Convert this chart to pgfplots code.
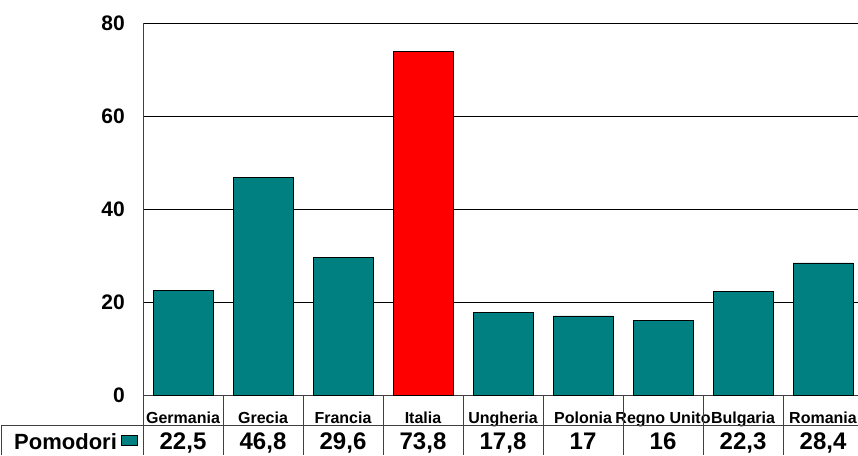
\documentclass[border=0pt]{standalone}
\usepackage{pgfplots}
\pgfplotsset{compat=1.18}
\usepackage{fontspec}
\setmainfont{Liberation Sans}
\definecolor{tealx}{HTML}{008080}
\definecolor{linex}{HTML}{404040}
\pgfplotstableread{
x y
0 22.5
1 46.8
2 29.6
4 17.8
5 17
6 16
7 22.3
8 28.4
}\teal
\pgfplotstableread{
x y
3 73.8
}\red
\pgfplotstableread{
x y v
0 0 22,5
1 0 46,8
2 0 29,6
3 0 73,8
4 0 17,8
5 0 17
6 0 16
7 0 22,3
8 0 28,4
}\vals
\begin{document}
\begin{tikzpicture}[x=1pt,y=1pt]
\useasboundingbox (0,0) rectangle (858,455);
\begin{axis}[
  at={(143pt,60pt)}, anchor=south west,
  scale only axis, width=715pt, height=372pt,
  xmin=-0.5, xmax=8.4375, ymin=0, ymax=80,
  clip=false,
  axis lines=left, axis line style={-, draw=linex, line width=1pt},
  ytick={0,20,40,60,80},
  ymajorgrids, major grid style={draw=black, line width=0.8pt},
  xtick={0,...,8},
  xticklabels={Germania,Grecia,Francia,Italia,Ungheria,Polonia,Regno Unito,Bulgaria,Romania},
  major tick length=0pt,
  /pgf/number format/assume math mode=true,
  yticklabel style={anchor=east, inner sep=0pt, xshift=-18pt, font=\fontsize{21}{21}\selectfont\bfseries},
  xticklabel style={anchor=base, inner sep=0pt, yshift=-28pt, font=\fontsize{16}{16}\selectfont\bfseries},
]
\addplot[ybar, bar width=0.75, bar shift=0pt, fill=tealx, draw=black, line width=0.8pt] table[x=x,y=y]{\teal};
\addplot[ybar, bar width=0.75, bar shift=0pt, fill=red, draw=black, line width=0.8pt] table[x=x,y=y]{\red};
\addplot[draw=none, mark=none, nodes near coords, point meta=explicit symbolic,
  nodes near coords style={anchor=base, inner sep=0pt, yshift=-54pt, font=\fontsize{24}{24}\selectfont\bfseries}]
  table[x=x,y=y,meta=v]{\vals};
\end{axis}
% data table grid
\foreach \k in {0,...,8} {\draw[linex, line width=1pt] (143+80*\k,60) -- (143+80*\k,0);}
\draw[linex, line width=1pt] (1,30) -- (858,30);
\draw[linex, line width=1pt] (1,30) -- (1,0);
\node[anchor=base west, inner sep=0pt, font=\fontsize{22}{22}\selectfont\bfseries] at (14,6) {Pomodori};
\draw[black, line width=0.8pt, fill=tealx] (121,10) rectangle (137,20);
\end{tikzpicture}
\end{document}
